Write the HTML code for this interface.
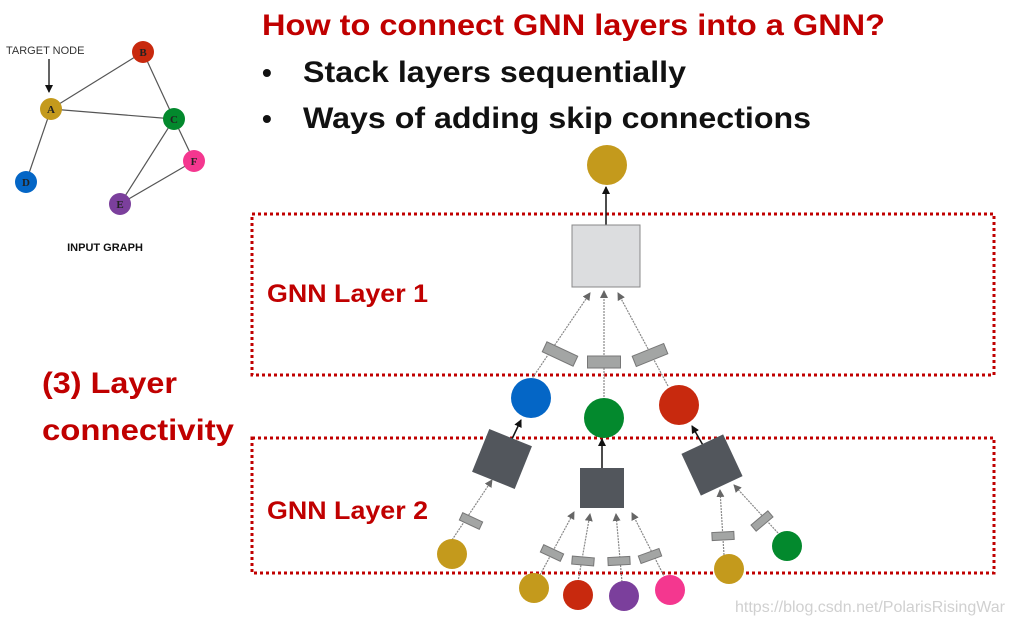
<!DOCTYPE html>
<html><head><meta charset="utf-8"><style>html,body{margin:0;padding:0;background:#fff}svg{display:block}</style></head>
<body>
<svg width="1016" height="626" viewBox="0 0 1016 626" xmlns="http://www.w3.org/2000/svg">
<defs>
<marker id="ab" markerWidth="8" markerHeight="8" refX="7" refY="4" orient="auto" markerUnits="userSpaceOnUse"><path d="M0,0 L8,4 L0,8 z" fill="#111"/></marker>
<marker id="ag" markerWidth="8" markerHeight="8" refX="7" refY="4" orient="auto" markerUnits="userSpaceOnUse"><path d="M0,0 L8,4 L0,8 z" fill="#666"/></marker>
</defs>
<g font-family="Liberation Sans, sans-serif">
<g stroke="#555" stroke-width="1.2">
<line x1="51" y1="109" x2="143" y2="52"/><line x1="51" y1="109" x2="174" y2="119"/>
<line x1="143" y1="52" x2="174" y2="119"/><line x1="51" y1="109" x2="26" y2="182"/>
<line x1="174" y1="119" x2="194" y2="161"/><line x1="174" y1="119" x2="120" y2="204"/>
<line x1="194" y1="161" x2="120" y2="204"/>
</g>
<line x1="49" y1="59" x2="49" y2="92" stroke="#111" stroke-width="1.3" marker-end="url(#ab)"/>
<text x="6" y="54" font-size="11" fill="#333">TARGET NODE</text>
<g font-family="Liberation Serif, serif" font-weight="bold" font-size="11" text-anchor="middle" fill="#222">
<circle cx="51" cy="109" r="11" fill="#c49a1c"/><text x="51" y="113">A</text>
<circle cx="143" cy="52" r="11" fill="#c8290e"/><text x="143" y="56">B</text>
<circle cx="174" cy="119" r="11" fill="#03892d"/><text x="174" y="123">C</text>
<circle cx="194" cy="161" r="11" fill="#f4378f"/><text x="194" y="165">F</text>
<circle cx="26" cy="182" r="11" fill="#0466c6"/><text x="26" y="186">D</text>
<circle cx="120" cy="204" r="11" fill="#7b3f9c"/><text x="120" y="208">E</text>
</g>
<text x="105" y="251" font-size="11" font-weight="bold" text-anchor="middle" fill="#111">INPUT GRAPH</text>

<text x="262" y="35" font-size="30" font-weight="bold" fill="#c00000" textLength="623" lengthAdjust="spacingAndGlyphs">How to connect GNN layers into a GNN?</text>
<text x="262" y="82" font-size="28" font-weight="bold" fill="#111">•</text>
<text x="303" y="82" font-size="30" font-weight="bold" fill="#111" textLength="383" lengthAdjust="spacingAndGlyphs">Stack layers sequentially</text>
<text x="262" y="128" font-size="28" font-weight="bold" fill="#111">•</text>
<text x="303" y="128" font-size="30" font-weight="bold" fill="#111" textLength="508" lengthAdjust="spacingAndGlyphs">Ways of adding skip connections</text>
<text x="42" y="393" font-size="30" font-weight="bold" fill="#c00000" textLength="135" lengthAdjust="spacingAndGlyphs">(3) Layer</text>
<text x="42" y="440" font-size="30" font-weight="bold" fill="#c00000" textLength="192" lengthAdjust="spacingAndGlyphs">connectivity</text>
<text x="267" y="302" font-size="25" font-weight="bold" fill="#c00000" textLength="161" lengthAdjust="spacingAndGlyphs">GNN Layer 1</text>
<text x="267" y="519" font-size="25" font-weight="bold" fill="#c00000" textLength="161" lengthAdjust="spacingAndGlyphs">GNN Layer 2</text>

<rect x="252" y="214" width="742" height="161" fill="none" stroke="#c00000" stroke-width="3" stroke-dasharray="3 3"/>
<rect x="252" y="438" width="742" height="135" fill="none" stroke="#c00000" stroke-width="3" stroke-dasharray="3 3"/>

<line x1="606" y1="225" x2="606" y2="187" stroke="#111" stroke-width="1.5" marker-end="url(#ab)"/>
<circle cx="607" cy="165" r="20" fill="#c49a1c"/>
<rect x="572" y="225" width="68" height="62" fill="#dcdddf" stroke="#888" stroke-width="1"/>
<g stroke="#888" stroke-width="1.2" stroke-dasharray="2 1" fill="none">
<line x1="531" y1="380" x2="590" y2="293" marker-end="url(#ag)"/>
<line x1="604" y1="400" x2="604" y2="291" marker-end="url(#ag)"/>
<line x1="668" y1="386" x2="618" y2="293" marker-end="url(#ag)"/>
</g>
<g fill="#a3a5a4" stroke="#777" stroke-width="1">
<rect x="-17" y="-5.5" width="34" height="11" transform="translate(560,354) rotate(25)"/>
<rect x="-16.5" y="-6" width="33" height="12" transform="translate(604,362)"/>
<rect x="-17" y="-5.5" width="34" height="11" transform="translate(650,355) rotate(-22)"/>
</g>
<circle cx="531" cy="398" r="20" fill="#0466c6"/>
<circle cx="604" cy="418" r="20" fill="#03892d"/>
<circle cx="679" cy="405" r="20" fill="#c8290e"/>

<line x1="511" y1="441" x2="521" y2="420" stroke="#111" stroke-width="1.5" marker-end="url(#ab)"/>
<line x1="602" y1="468" x2="602" y2="439" stroke="#111" stroke-width="1.5" marker-end="url(#ab)"/>
<line x1="704" y1="447" x2="692" y2="426" stroke="#111" stroke-width="1.5" marker-end="url(#ab)"/>
<g fill="#52565c">
<rect x="-23" y="-23" width="46" height="46" transform="translate(502,459) rotate(22)"/>
<rect x="580" y="468" width="44" height="40"/>
<rect x="-23" y="-23" width="46" height="46" transform="translate(712,465) rotate(-25)"/>
</g>
<g stroke="#888" stroke-width="1.2" stroke-dasharray="2 1" fill="none">
<line x1="452" y1="540" x2="492" y2="480" marker-end="url(#ag)"/>
<line x1="540" y1="575" x2="574" y2="512" marker-end="url(#ag)"/>
<line x1="578" y1="582" x2="590" y2="514" marker-end="url(#ag)"/>
<line x1="622" y1="582" x2="616" y2="514" marker-end="url(#ag)"/>
<line x1="665" y1="578" x2="632" y2="513" marker-end="url(#ag)"/>
<line x1="724" y1="555" x2="720" y2="490" marker-end="url(#ag)"/>
<line x1="778" y1="533" x2="734" y2="485" marker-end="url(#ag)"/>
</g>
<g fill="#a3a5a4" stroke="#777" stroke-width="1">
<rect x="-11" y="-4" width="22" height="8" transform="translate(471,521) rotate(25)"/>
<rect x="-11" y="-4" width="22" height="8" transform="translate(552,553) rotate(25)"/>
<rect x="-11" y="-4" width="22" height="8" transform="translate(583,561) rotate(5)"/>
<rect x="-11" y="-4" width="22" height="8" transform="translate(619,561) rotate(-3)"/>
<rect x="-11" y="-4" width="22" height="8" transform="translate(650,556) rotate(-20)"/>
<rect x="-11" y="-4" width="22" height="8" transform="translate(723,536) rotate(-3)"/>
<rect x="-11" y="-4" width="22" height="8" transform="translate(762,521) rotate(-40)"/>
</g>
<circle cx="452" cy="554" r="15" fill="#c49a1c"/>
<circle cx="534" cy="588" r="15" fill="#c49a1c"/>
<circle cx="578" cy="595" r="15" fill="#c8290e"/>
<circle cx="624" cy="596" r="15" fill="#7b3f9c"/>
<circle cx="670" cy="590" r="15" fill="#f4378f"/>
<circle cx="729" cy="569" r="15" fill="#c49a1c"/>
<circle cx="787" cy="546" r="15" fill="#03892d"/>

<text x="735" y="612" font-size="16" fill="#d0d0d0" textLength="270" lengthAdjust="spacingAndGlyphs">https://blog.csdn.net/PolarisRisingWar</text>
</g>
</svg>
</body></html>
